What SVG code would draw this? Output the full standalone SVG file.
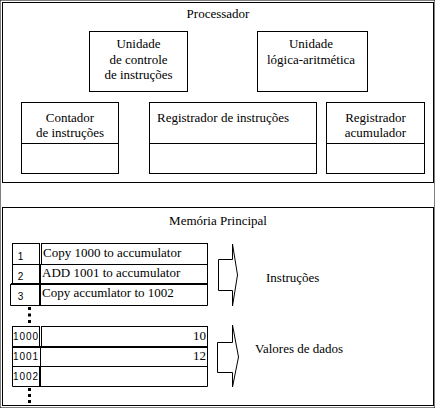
<svg xmlns="http://www.w3.org/2000/svg" width="435" height="408" viewBox="0 0 435 408">
<style>
  rect, path, line { fill: none; stroke: #000; stroke-width: 1; }
  text { fill: #000; }
  .m { text-anchor: middle; }
  .e { text-anchor: end; }
  .thick { stroke-width: 2; }
  .dot { fill: #000; stroke: none; }
</style>
<rect x="0" y="0" width="435" height="408" fill="#fff" stroke="none"/>

<g font-family="'Liberation Serif', 'DejaVu Serif', 'Times New Roman', serif" font-size="13">
<g id="processador">
  <rect x="2.5" y="2.5" width="431" height="180"/>
  <text class="m" x="218" y="18">Processador</text>
</g>
<g id="unidade-controle">
  <rect x="89.5" y="31.5" width="98" height="60"/>
  <text class="m" x="138.5" y="48">Unidade</text>
  <text class="m" x="138.5" y="63.5">de controle</text>
  <text class="m" x="138.5" y="79">de instruções</text>
</g>
<g id="unidade-logica">
  <rect x="257.5" y="31.5" width="110" height="60"/>
  <text class="m" x="311" y="48">Unidade</text>
  <text class="m" x="311" y="63.5">lógica-aritmética</text>
</g>
<g id="contador">
  <rect x="21.5" y="102.5" width="97" height="71"/>
  <line x1="21.5" y1="143.5" x2="118.5" y2="143.5"/>
  <text class="m" x="70" y="121.5">Contador</text>
  <text class="m" x="70" y="137">de instruções</text>
</g>
<g id="registrador-instrucoes">
  <rect x="149.5" y="102.5" width="167" height="71"/>
  <line x1="149.5" y1="143.5" x2="316.5" y2="143.5"/>
  <text x="157" y="121.5">Registrador de instruções</text>
</g>
<g id="registrador-acumulador">
  <rect x="326.5" y="102.5" width="98" height="71"/>
  <line x1="326.5" y1="143.5" x2="424.5" y2="143.5"/>
  <text class="m" x="375.5" y="121.5">Registrador</text>
  <text class="m" x="375.5" y="137">acumulador</text>
</g>

<g id="memoria">
  <rect x="2.5" y="207.5" width="431" height="198"/>
  <text class="m" x="218" y="225">Memória Principal</text>
</g>

<g id="instrucoes-tabela">
  <rect x="12.5" y="243.5" width="27" height="21"/>
  <rect x="41.5" y="243.5" width="166" height="21"/>
  <text class="m" x="20.5" y="260" font-family="'Liberation Sans', Arial, sans-serif" font-size="10">1</text>
  <text x="43" y="257">Copy 1000 to accumulator</text>
  <rect x="12.5" y="264.5" width="195" height="19.5"/>
  <line class="thick" x1="40" y1="264" x2="40" y2="284"/>
  <text class="m" x="20.5" y="280" font-family="'Liberation Sans', Arial, sans-serif" font-size="10">2</text>
  <text x="42" y="277">ADD 1001 to accumulator</text>
  <line class="thick" x1="11" y1="284" x2="208" y2="284"/>
  <path d="M10.5,284 V305.5 H207.5 V284"/>
  <line class="thick" x1="40" y1="285" x2="40" y2="305"/>
  <text class="m" x="20.5" y="300" font-family="'Liberation Sans', Arial, sans-serif" font-size="10">3</text>
  <text x="42" y="297">Copy accumlator to 1002</text>
  <rect class="dot" x="28" y="307" width="3" height="3"/>
  <rect class="dot" x="28" y="313.5" width="3" height="3"/>
  <rect class="dot" x="28" y="320" width="3" height="3"/>
</g>

<g id="dados-tabela">
  <rect x="12.5" y="326.5" width="27" height="20"/>
  <rect x="41.5" y="326.5" width="166" height="20"/>
  <text x="13" y="340" font-family="'Liberation Sans', Arial, sans-serif" font-size="10" textLength="25" lengthAdjust="spacing">1000</text>
  <text class="e" x="206" y="340">10</text>
  <line class="thick" x1="12" y1="347" x2="208" y2="347"/>
  <path d="M12.5,347 V386.5 H207.5 V347"/>
  <line x1="40.5" y1="348" x2="40.5" y2="366.5"/>
  <text x="13" y="360" font-family="'Liberation Sans', Arial, sans-serif" font-size="10" textLength="25" lengthAdjust="spacing">1001</text>
  <text class="e" x="206" y="360">12</text>
  <line x1="12.5" y1="366.5" x2="207.5" y2="366.5"/>
  <line class="thick" x1="40" y1="367" x2="40" y2="386"/>
  <text x="13" y="380" font-family="'Liberation Sans', Arial, sans-serif" font-size="10" textLength="25" lengthAdjust="spacing">1002</text>
  <rect class="dot" x="28" y="388" width="3" height="3"/>
  <rect class="dot" x="28" y="394" width="3" height="3"/>
  <rect class="dot" x="28" y="400" width="3" height="3"/>
</g>

<g id="seta-instrucoes">
  <path d="M218.5,259.5 H232.5 V244 L237.5,275 L232.5,306 V290.5 H218.5 Z"/>
  <text x="266" y="281.5">Instruções</text>
</g>
<g id="seta-dados">
  <path d="M217.5,342.5 H232.5 V325 L238.5,357 L232.5,387 V372.5 H217.5 Z"/>
  <text x="255" y="353">Valores de dados</text>
</g>
</g>
<g id="connectors"></g>
</svg>
